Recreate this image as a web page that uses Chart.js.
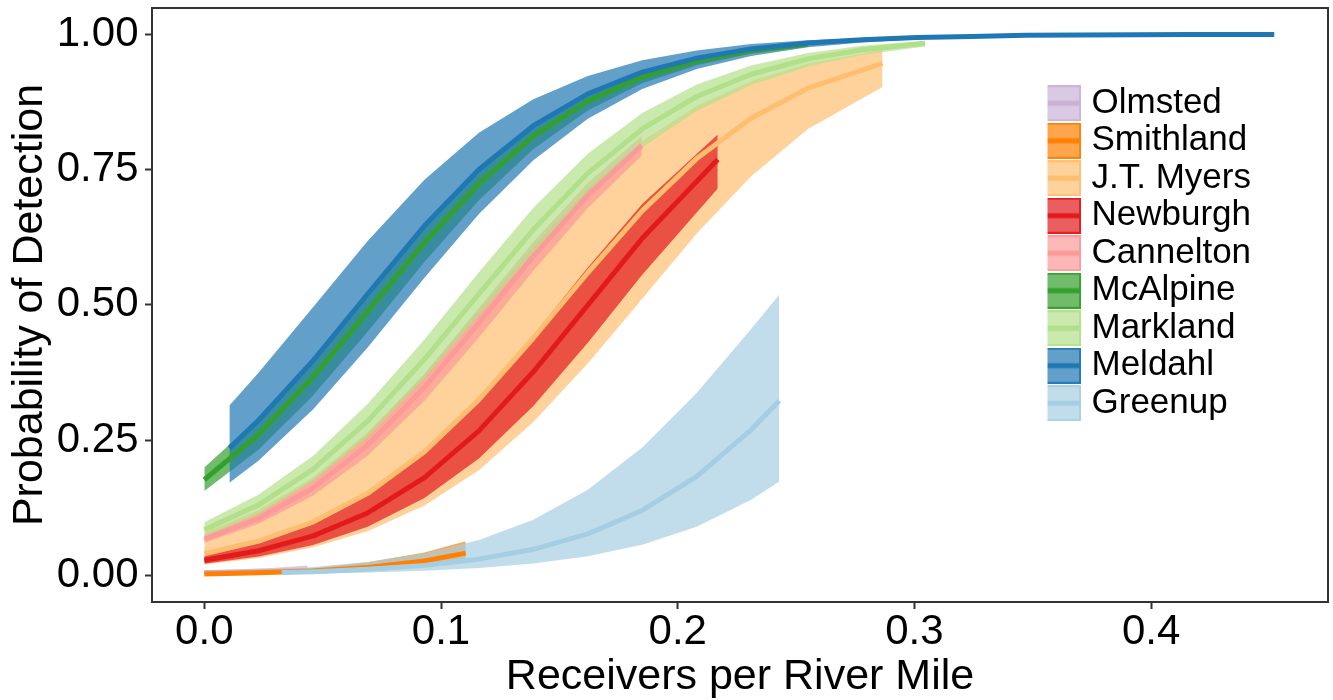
<!DOCTYPE html>
<html><head><meta charset="utf-8">
<script src="https://cdn.jsdelivr.net/npm/chart.js@4.4.0/dist/chart.umd.min.js"></script>
<style>html,body{margin:0;padding:0;background:#fff;}#wrap{width:1333px;height:700px;position:relative;}</style>
</head><body><div id="wrap"><canvas id="c" width="1333" height="700"></canvas></div>
<script>
const seriesNames = ['Olmsted','Smithland','J.T. Myers','Newburgh','Cannelton','McAlpine','Markland','Meldahl','Greenup'];
const seriesColors = ['#CAB2D6','#FF7F00','#FDBF6F','#E31A1C','#FB9A99','#33A02C','#B2DF8A','#1F78B4','#A6CEE3'];
const xTicks = [0, 0.1, 0.2, 0.3, 0.4];
const xTickLabels = ['0.0','0.1','0.2','0.3','0.4'];
const yTicks = [0, 0.25, 0.5, 0.75, 1];
const yTickLabels = ['0.00','0.25','0.50','0.75','1.00'];

const olmstedX = [0, 0.015, 0.03, 0.0437];
const olmstedFit = [0.005, 0.006, 0.0075, 0.009];
const olmstedLo = [0.0025, 0.003, 0.004, 0.0045];
const olmstedHi = [0.009, 0.011, 0.014, 0.018];

const smithlandX = [0, 0.023, 0.046, 0.069, 0.093, 0.1104];
const smithlandFit = [0.0025, 0.0045, 0.0081, 0.0145, 0.0266, 0.0410];
const smithlandLo = [0.0014, 0.0026, 0.0048, 0.0088, 0.0166, 0.0266];
const smithlandHi = [0.0043, 0.0076, 0.0135, 0.0239, 0.0423, 0.0630];

const jtX = [0, 0.023, 0.046, 0.069, 0.093, 0.116, 0.139, 0.162, 0.185, 0.208, 0.231, 0.255, 0.2865];
const jtFit = [0.0399, 0.0633, 0.0989, 0.1514, 0.2283, 0.3247, 0.4386, 0.5592, 0.6735, 0.7702, 0.8447, 0.9003, 0.9461];
const jtLo = [0.0198, 0.0321, 0.0517, 0.0814, 0.1292, 0.1943, 0.2835, 0.3913, 0.5110, 0.6316, 0.7376, 0.8250, 0.9025];
const jtHi = [0.0787, 0.1208, 0.1811, 0.2643, 0.3710, 0.4895, 0.6066, 0.7146, 0.8029, 0.8675, 0.9132, 0.9454, 0.9709];

const newburghX = [0, 0.023, 0.046, 0.069, 0.093, 0.116, 0.139, 0.162, 0.185, 0.2169];
const newburghFit = [0.0279, 0.0454, 0.0729, 0.1152, 0.1805, 0.2670, 0.3761, 0.4995, 0.6229, 0.7685];
const newburghLo = [0.0212, 0.0347, 0.0561, 0.0895, 0.1427, 0.2158, 0.3130, 0.4300, 0.5553, 0.7150];
const newburghHi = [0.0366, 0.0592, 0.0942, 0.1469, 0.2256, 0.3252, 0.4437, 0.5691, 0.6861, 0.8146];

const cannX = [0, 0.023, 0.046, 0.069, 0.093, 0.116, 0.139, 0.162, 0.1848];
const cannFit = [0.0666, 0.1050, 0.1617, 0.2405, 0.3473, 0.4666, 0.5895, 0.7025, 0.7945];
const cannLo = [0.0601, 0.0951, 0.1473, 0.2210, 0.3228, 0.4393, 0.5627, 0.6789, 0.7759];
const cannHi = [0.0738, 0.1158, 0.1771, 0.2611, 0.3726, 0.4940, 0.6159, 0.7250, 0.8118];

const mcX = [0, 0.023, 0.046, 0.069, 0.093, 0.116, 0.139, 0.162, 0.185, 0.208, 0.231, 0.255];
const mcFit = [0.1765, 0.2606, 0.3668, 0.4875, 0.6152, 0.7243, 0.8118, 0.8764, 0.9210, 0.9504, 0.9693, 0.9814];
const mcLo = [0.1558, 0.2327, 0.3327, 0.4502, 0.5791, 0.6934, 0.7878, 0.8593, 0.9094, 0.9428, 0.9644, 0.9785];
const mcHi = [0.1994, 0.2905, 0.4023, 0.5250, 0.6500, 0.7532, 0.8337, 0.8917, 0.9313, 0.9570, 0.9734, 0.9840];

const markX = [0, 0.023, 0.046, 0.069, 0.093, 0.116, 0.139, 0.162, 0.185, 0.208, 0.231, 0.255, 0.278, 0.3045];
const markFit = [0.0840, 0.1301, 0.1962, 0.2850, 0.3992, 0.5202, 0.6390, 0.7429, 0.8250, 0.8850, 0.9262, 0.9545, 0.9715, 0.9836];
const markLo = [0.0717, 0.1130, 0.1736, 0.2554, 0.3638, 0.4803, 0.5965, 0.7029, 0.7910, 0.8581, 0.9064, 0.9406, 0.9620, 0.9776];
const markHi = [0.0980, 0.1493, 0.2210, 0.3165, 0.4356, 0.5600, 0.6794, 0.7792, 0.8546, 0.9072, 0.9421, 0.9652, 0.9787, 0.9881];

const meldX = [0.0106, 0.023, 0.046, 0.069, 0.093, 0.116, 0.139, 0.162, 0.185, 0.208, 0.231, 0.255, 0.278, 0.301, 0.324, 0.347, 0.370, 0.394, 0.417, 0.440, 0.452];
const meldFit = [0.235, 0.287, 0.397, 0.520, 0.646, 0.750, 0.831, 0.890, 0.930, 0.956, 0.973, 0.984, 0.990, 0.994, 0.996, 0.998, 0.9986, 0.9992, 0.9995, 0.9997, 0.9998];
const meldLo = [0.171, 0.212, 0.307, 0.421, 0.550, 0.668, 0.767, 0.844, 0.899, 0.936, 0.960, 0.976, 0.985, 0.991, 0.9945, 0.9966, 0.9979, 0.9988, 0.9993, 0.9996, 0.9996];
const meldHi = [0.314, 0.375, 0.496, 0.618, 0.731, 0.818, 0.880, 0.923, 0.952, 0.970, 0.982, 0.989, 0.9932, 0.9959, 0.9975, 0.9985, 0.9991, 0.9995, 0.9997, 0.9998, 0.9998];

const greenX = [0.0327, 0.046, 0.069, 0.093, 0.116, 0.139, 0.162, 0.185, 0.208, 0.231, 0.2429];
const greenFit = [0.0051, 0.0067, 0.0110, 0.0183, 0.0298, 0.0480, 0.0765, 0.1198, 0.1829, 0.2689, 0.3224];
const greenLo = [0.0022, 0.0030, 0.0049, 0.0082, 0.0133, 0.0217, 0.0352, 0.0566, 0.0897, 0.1395, 0.1732];
const greenHi = [0.0114, 0.0151, 0.0246, 0.0407, 0.0651, 0.1027, 0.1583, 0.2361, 0.3369, 0.4551, 0.5192];

const seriesData = [
  [olmstedX, olmstedFit, olmstedLo, olmstedHi],
  [smithlandX, smithlandFit, smithlandLo, smithlandHi],
  [jtX, jtFit, jtLo, jtHi],
  [newburghX, newburghFit, newburghLo, newburghHi],
  [cannX, cannFit, cannLo, cannHi],
  [mcX, mcFit, mcLo, mcHi],
  [markX, markFit, markLo, markHi],
  [meldX, meldFit, meldLo, meldHi],
  [greenX, greenFit, greenLo, greenHi]
];

const FONT = '"Liberation Sans", Arial, Helvetica, sans-serif';
function rgba(hex, a) {
  const n = parseInt(hex.slice(1), 16);
  return 'rgba(' + ((n >> 16) & 255) + ',' + ((n >> 8) & 255) + ',' + (n & 255) + ',' + a + ')';
}
const pts = (xs, ys) => xs.map((x, i) => ({x: x, y: ys[i]}));

const datasets = [];
const n = seriesNames.length;
seriesData.forEach((s, i) => {
  const col = seriesColors[i];
  datasets.push({label: seriesNames[i] + ' lo', data: pts(s[0], s[2]), borderColor: 'rgba(0,0,0,0)', borderWidth: 0,
    pointRadius: 0, fill: false, order: 100 - i});
  datasets.push({label: seriesNames[i] + ' hi', data: pts(s[0], s[3]), borderColor: 'rgba(0,0,0,0)', borderWidth: 0,
    pointRadius: 0, fill: '-1', backgroundColor: rgba(col, 0.7), order: 100 - i});
});
seriesData.forEach((s, i) => {
  datasets.push({label: seriesNames[i], data: pts(s[0], s[1]), borderColor: seriesColors[i], borderWidth: 5,
    borderCapStyle: 'butt', borderJoinStyle: 'round', pointRadius: 0, fill: false, order: 100 - n - i});
});

function makeKey(col) {
  const c = document.createElement('canvas');
  c.width = 38; c.height = 36;
  const g = c.getContext('2d');
  g.fillStyle = '#fff'; g.fillRect(0, 0, 38, 36);
  g.fillStyle = rgba(col, 0.7); g.fillRect(0, 0, 38, 36);
  g.strokeStyle = rgba(col, 0.9); g.lineWidth = 2; g.strokeRect(1, 1, 36, 34);
  g.fillStyle = col; g.fillRect(1, 15.5, 36, 5);
  return c;
}
const keyImgs = seriesColors.map(makeKey);

const frame = {
  id: 'frame',
  beforeDraw(chart) {
    const lg = chart.legend;
    if (lg) { lg.left = 1047.5; lg.top = 83.2; lg.right = 1333; lg.bottom = 700; lg.width = 285.5; }
  },
  afterDraw(chart) {
    const a = chart.chartArea, ctx = chart.ctx;
    ctx.save();
    ctx.strokeStyle = '#333333'; ctx.lineWidth = 2;
    ctx.strokeRect(a.left, a.top, a.right - a.left, a.bottom - a.top);
    ctx.restore();
  }
};

new Chart(document.getElementById('c'), {
  type: 'line',
  data: {datasets: datasets},
  plugins: [frame],
  options: {
    responsive: false, animation: false, events: [],
    layout: {padding: {top: 8, right: 5, left: 0, bottom: 0}},
    elements: {line: {tension: 0}},
    plugins: {
      tooltip: {enabled: false},
      title: {display: false},
      legend: {
        display: true, position: 'chartArea', align: 'start',
        labels: {
          usePointStyle: true, boxWidth: 24, padding: 2.5, color: '#000',
          font: {family: FONT, size: 35},
          generateLabels: () => seriesNames.map((nm, i) => ({
            text: nm, pointStyle: keyImgs[i], fillStyle: 'rgba(0,0,0,0)', strokeStyle: 'rgba(0,0,0,0)',
            lineWidth: 0, hidden: false, fontColor: '#000', datasetIndex: 2 * n + i
          }))
        }
      }
    },
    scales: {
      x: {
        type: 'linear', min: -0.0221, max: 0.4747,
        afterFit: s => { s.height = 98; s.paddingLeft = 0; s.paddingRight = 0; },
        afterBuildTicks: s => { s.ticks = xTicks.map(v => ({value: v})); },
        ticks: {
          color: '#000', padding: 2, font: {family: FONT, size: 42, lineHeight: 1},
          callback: (v) => { const k = xTicks.indexOf(v); return k >= 0 ? xTickLabels[k] : ''; }
        },
        grid: {display: true, drawOnChartArea: false, drawTicks: true, tickLength: 7, tickWidth: 2, tickColor: '#333333'},
        border: {display: false},
        title: {display: true, text: 'Receivers per River Mile', color: '#000',
          font: {family: FONT, size: 43, lineHeight: 1}, padding: {top: 0, bottom: 1.5}}
      },
      y: {
        type: 'linear', min: -0.0494, max: 1.0486,
        afterFit: s => { s.width = 152; s.paddingTop = 0; s.paddingBottom = 0; },
        afterBuildTicks: s => { s.ticks = yTicks.map(v => ({value: v})); },
        ticks: {
          color: '#000', padding: 6.5, font: {family: FONT, size: 42, lineHeight: 1},
          callback: (v) => { const k = yTicks.indexOf(v); return k >= 0 ? yTickLabels[k] : ''; }
        },
        grid: {display: true, drawOnChartArea: false, drawTicks: true, tickLength: 7, tickWidth: 2, tickColor: '#333333'},
        border: {display: false},
        title: {display: true, text: 'Probability of Detection', color: '#000',
          font: {family: FONT, size: 43, lineHeight: 1}, padding: {top: 8.5, bottom: 0}}
      }
    }
  }
});
</script></body></html>
